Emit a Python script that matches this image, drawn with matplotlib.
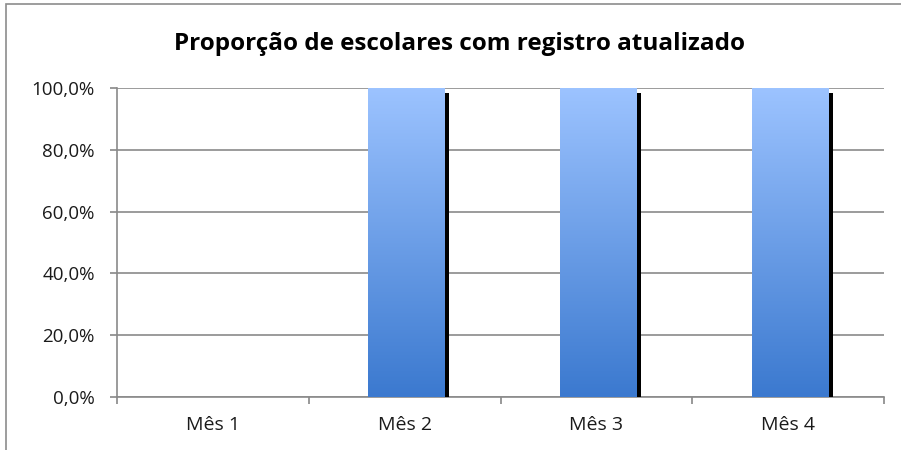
import matplotlib
matplotlib.use("Agg")
import matplotlib.pyplot as plt
import numpy as np
from matplotlib import patheffects
from matplotlib.ticker import FuncFormatter, FixedLocator
from matplotlib.patches import Rectangle
from matplotlib.colors import LinearSegmentedColormap

categories = ["Mês 1", "Mês 2", "Mês 3", "Mês 4"]
values = [0.0, 1.0, 1.0, 1.0]
title = "Proporção de escolares com registro atualizado"

plt.rcParams['font.family'] = ['Open Sans', 'DejaVu Sans']

fig = plt.figure(figsize=(9.01, 4.5), dpi=100)
# outer chart border
fig.patches.append(Rectangle((6/901, -0.02), 1.1, (450-4)/450 + 0.02, transform=fig.transFigure,
                             fill=False, edgecolor='#8c8c8c', linewidth=1.2))
ax = fig.add_axes([117/901, 1-397/450, (884-117)/901, (397-88)/450])

x = np.arange(len(categories))
bars = ax.bar(x + 0.01, values, width=0.4, color='none', edgecolor='none', zorder=3,
              path_effects=[patheffects.SimplePatchShadow(offset=(3, -3.5), shadow_rgbFace='black', alpha=1.0),
                            patheffects.Normal()])

grad = np.linspace(0, 1, 256).reshape(-1, 1)
cmap = LinearSegmentedColormap.from_list('g', ['#3b79cf', '#9cc3ff'])
for b in bars:
    if b.get_height() <= 0:
        continue
    x0, w, h = b.get_x(), b.get_width(), b.get_height()
    im = ax.imshow(grad, cmap=cmap, origin='lower', extent=[x0, x0 + w, 0, h],
                   aspect='auto', zorder=4, interpolation='bilinear')
    im.set_clip_path(b)

ax.set_xlim(-0.5, len(categories) - 0.5)
ax.set_ylim(0, 1.0)
ax.set_yticks(np.linspace(0, 1, 6))
ax.yaxis.set_major_formatter(FuncFormatter(lambda v, p: f"{v*100:.1f}%".replace('.', ',')))
ax.set_xticks(x)
ax.set_xticklabels(categories)
ax.xaxis.set_minor_locator(FixedLocator(np.arange(-0.5, len(categories), 1)))
ax.tick_params(axis='x', which='major', length=0, pad=14, labelsize=14, colors='#1a1a1a')
ax.tick_params(axis='x', which='minor', length=5, color='#888888', direction='out', width=1.2)
ax.tick_params(axis='y', length=5, color='#888888', labelsize=13.5, labelcolor='#1a1a1a', pad=11, width=1.2)

ax.grid(axis='y', color='#8a8a8a', linewidth=1.2, zorder=0)
ax.set_axisbelow(True)
for s in ['top', 'right']:
    ax.spines[s].set_visible(False)
ax.spines['left'].set_color('#8a8a8a')
ax.spines['bottom'].set_color('#8a8a8a')
ax.spines['left'].set_linewidth(1.2)
ax.spines['bottom'].set_linewidth(1.2)

fig.text(460/901, 1 - 50/450, title, ha='center', va='baseline', fontsize=17.5, fontweight='bold', color='black')

fig.savefig('out.png', dpi=100)
